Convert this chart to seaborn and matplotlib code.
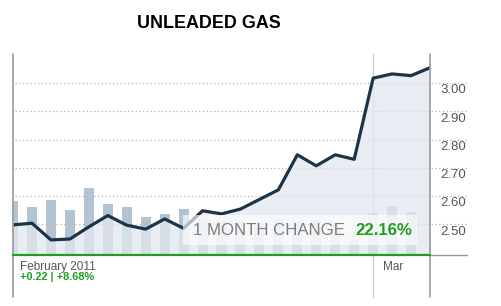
import numpy as np
import pandas as pd
import matplotlib
matplotlib.use("Agg")
import matplotlib.pyplot as plt
import matplotlib.transforms as mtransforms
from matplotlib.patches import Rectangle
import seaborn as sns

# ---------------- data ----------------
trading_days = ["Feb 1", "Feb 2", "Feb 3", "Feb 4", "Feb 7", "Feb 8", "Feb 9", "Feb 10",
                "Feb 11", "Feb 14", "Feb 15", "Feb 16", "Feb 17", "Feb 18", "Feb 22",
                "Feb 23", "Feb 24", "Feb 25", "Feb 28", "Mar 1", "Mar 2", "Mar 3", "Mar 4"]
price = [2.498, 2.504, 2.445, 2.448, 2.491, 2.531, 2.497, 2.483, 2.519, 2.486, 2.548,
         2.537, 2.554, 2.588, 2.622, 2.746, 2.707, 2.746, 2.730, 3.017, 3.032, 3.026, 3.054]
volume = [54, 48, 55, 45, 67, 51, 48, 38, 41, 46, 36, 34, 35, 33, 36, 34, 35, 33, 15,
          42, 49, 43, 0]
y_ticks = [2.50, 2.60, 2.70, 2.80, 2.90, 3.00]
month_labels = ["February 2011", "Mar"]
month_start_index = [0, 19]
title = "UNLEADED GAS"
change_label = "1 MONTH CHANGE"
change_value = "22.16%"
period_change = "+0.22 | +8.68%"

pos = np.arange(len(trading_days))
df = pd.DataFrame({"pos": pos, "price": price, "volume": volume})

# ---------------- style ----------------
sns.set_theme(style="white")
plt.rcParams["font.family"] = ["Liberation Sans", "DejaVu Sans"]

W, H = 501, 306
fig = plt.figure(figsize=(W / 100, H / 100), dpi=100)
fig.patch.set_facecolor("white")

L, R, T, B = 13, 430, 54, 255
rect = [L / W, 1 - B / H, (R - L) / W, (B - T) / H]
ax_v = fig.add_axes(rect)
ax = fig.add_axes(rect)
ax.patch.set_alpha(0)

YMIN, YMAX = 2.3915, 3.1025
ax.set_ylim(YMIN, YMAX)
ax.set_xlim(pos[0], pos[-1])
ax_v.set_xlim(pos[0], pos[-1])
ax_v.set_ylim(0, B - T)

# volume bars (background)
sns.barplot(data=df, x="pos", y="volume", native_scale=True, width=0.53,
            color="#b3c3d1", saturation=1, errorbar=None, linewidth=0, ax=ax_v,
            zorder=2)
ax_v.set_xlim(pos[0], pos[-1])
ax_v.set_ylim(0, B - T)

# dotted gridlines (under bars) using the price scale
grid_tr = mtransforms.blended_transform_factory(ax_v.transAxes, ax.transData)
for v in y_ticks:
    ax_v.plot([0.005, 1.089], [v, v], transform=grid_tr, clip_on=False,
              color="#b0b0b0", lw=0.9, ls=(0, (1, 2)), zorder=1)

# price area + line
ax.fill_between(pos, price, YMIN, color="#e2e8ef", alpha=0.75, lw=0, zorder=1)
sns.lineplot(data=df, x="pos", y="price", ax=ax, color="#1b3447", lw=2.3,
             zorder=3)
ax.set_xlim(pos[0], pos[-1])
ax.set_ylim(YMIN, YMAX)

for a in (ax, ax_v):
    a.set_axis_off()

# y labels on the right
lab_tr = mtransforms.blended_transform_factory(ax.transAxes, ax.transData)
for v in y_ticks:
    ax.text(1.024, v - 0.026, f"{v:.2f}", transform=lab_tr, ha="left",
            va="center", fontsize=9.5, color="#555555", clip_on=False)

# frame lines
vx_tr = mtransforms.blended_transform_factory(ax.transData, ax.transAxes)
ax.plot([pos[0], pos[0]], [1, -0.21], transform=vx_tr, color="#9a9a9a", lw=1.2,
        clip_on=False, zorder=5)
ax.plot([pos[-1], pos[-1]], [1, -0.21], transform=vx_tr, color="#9a9a9a", lw=1.2,
        clip_on=False, zorder=5)
ax.plot([month_start_index[1]] * 2, [1, -0.21], transform=vx_tr, color="#c6d0da",
        lw=1.0, clip_on=False, zorder=0.5)
ax.plot([1.0, 1.089], [0, 0], transform=ax.transAxes, color="#9a9a9a", lw=1.0,
        clip_on=False, zorder=5)
ax.plot([0, 1], [0, 0], transform=ax.transAxes, color="#1e9e1e", lw=1.6,
        clip_on=False, zorder=6)

# 1 month change box
ax.add_patch(Rectangle((0.408, 0.05), 0.561, 0.149, transform=ax.transAxes,
                       facecolor="white", alpha=0.65, lw=0, zorder=4))
ax.text(0.432, 0.0995, change_label, transform=ax.transAxes, ha="left",
        va="baseline", fontsize=12.1, color="#7c7c7c", zorder=7)
ax.text(0.820, 0.0995, change_value, transform=ax.transAxes, ha="left",
        va="baseline", fontsize=12.1, fontweight="bold", color="#1e9e1e", zorder=7)

# texts below / title
fig.text(20 / W, 1 - 270 / H, month_labels[0], ha="left", va="baseline",
         fontsize=8.5, color="#555555")
fig.text(383 / W, 1 - 270 / H, month_labels[1], ha="left", va="baseline",
         fontsize=8.5, color="#555555")
fig.text(20 / W, 1 - 280 / H, period_change, ha="left", va="baseline",
         fontsize=7.8, fontweight="bold", color="#1e9e1e")
fig.text(137 / W, 1 - 28.5 / H, title, ha="left", va="baseline",
         fontsize=12.9, fontweight="bold", color="black")

fig.savefig("out.png", dpi=100, facecolor="white")
